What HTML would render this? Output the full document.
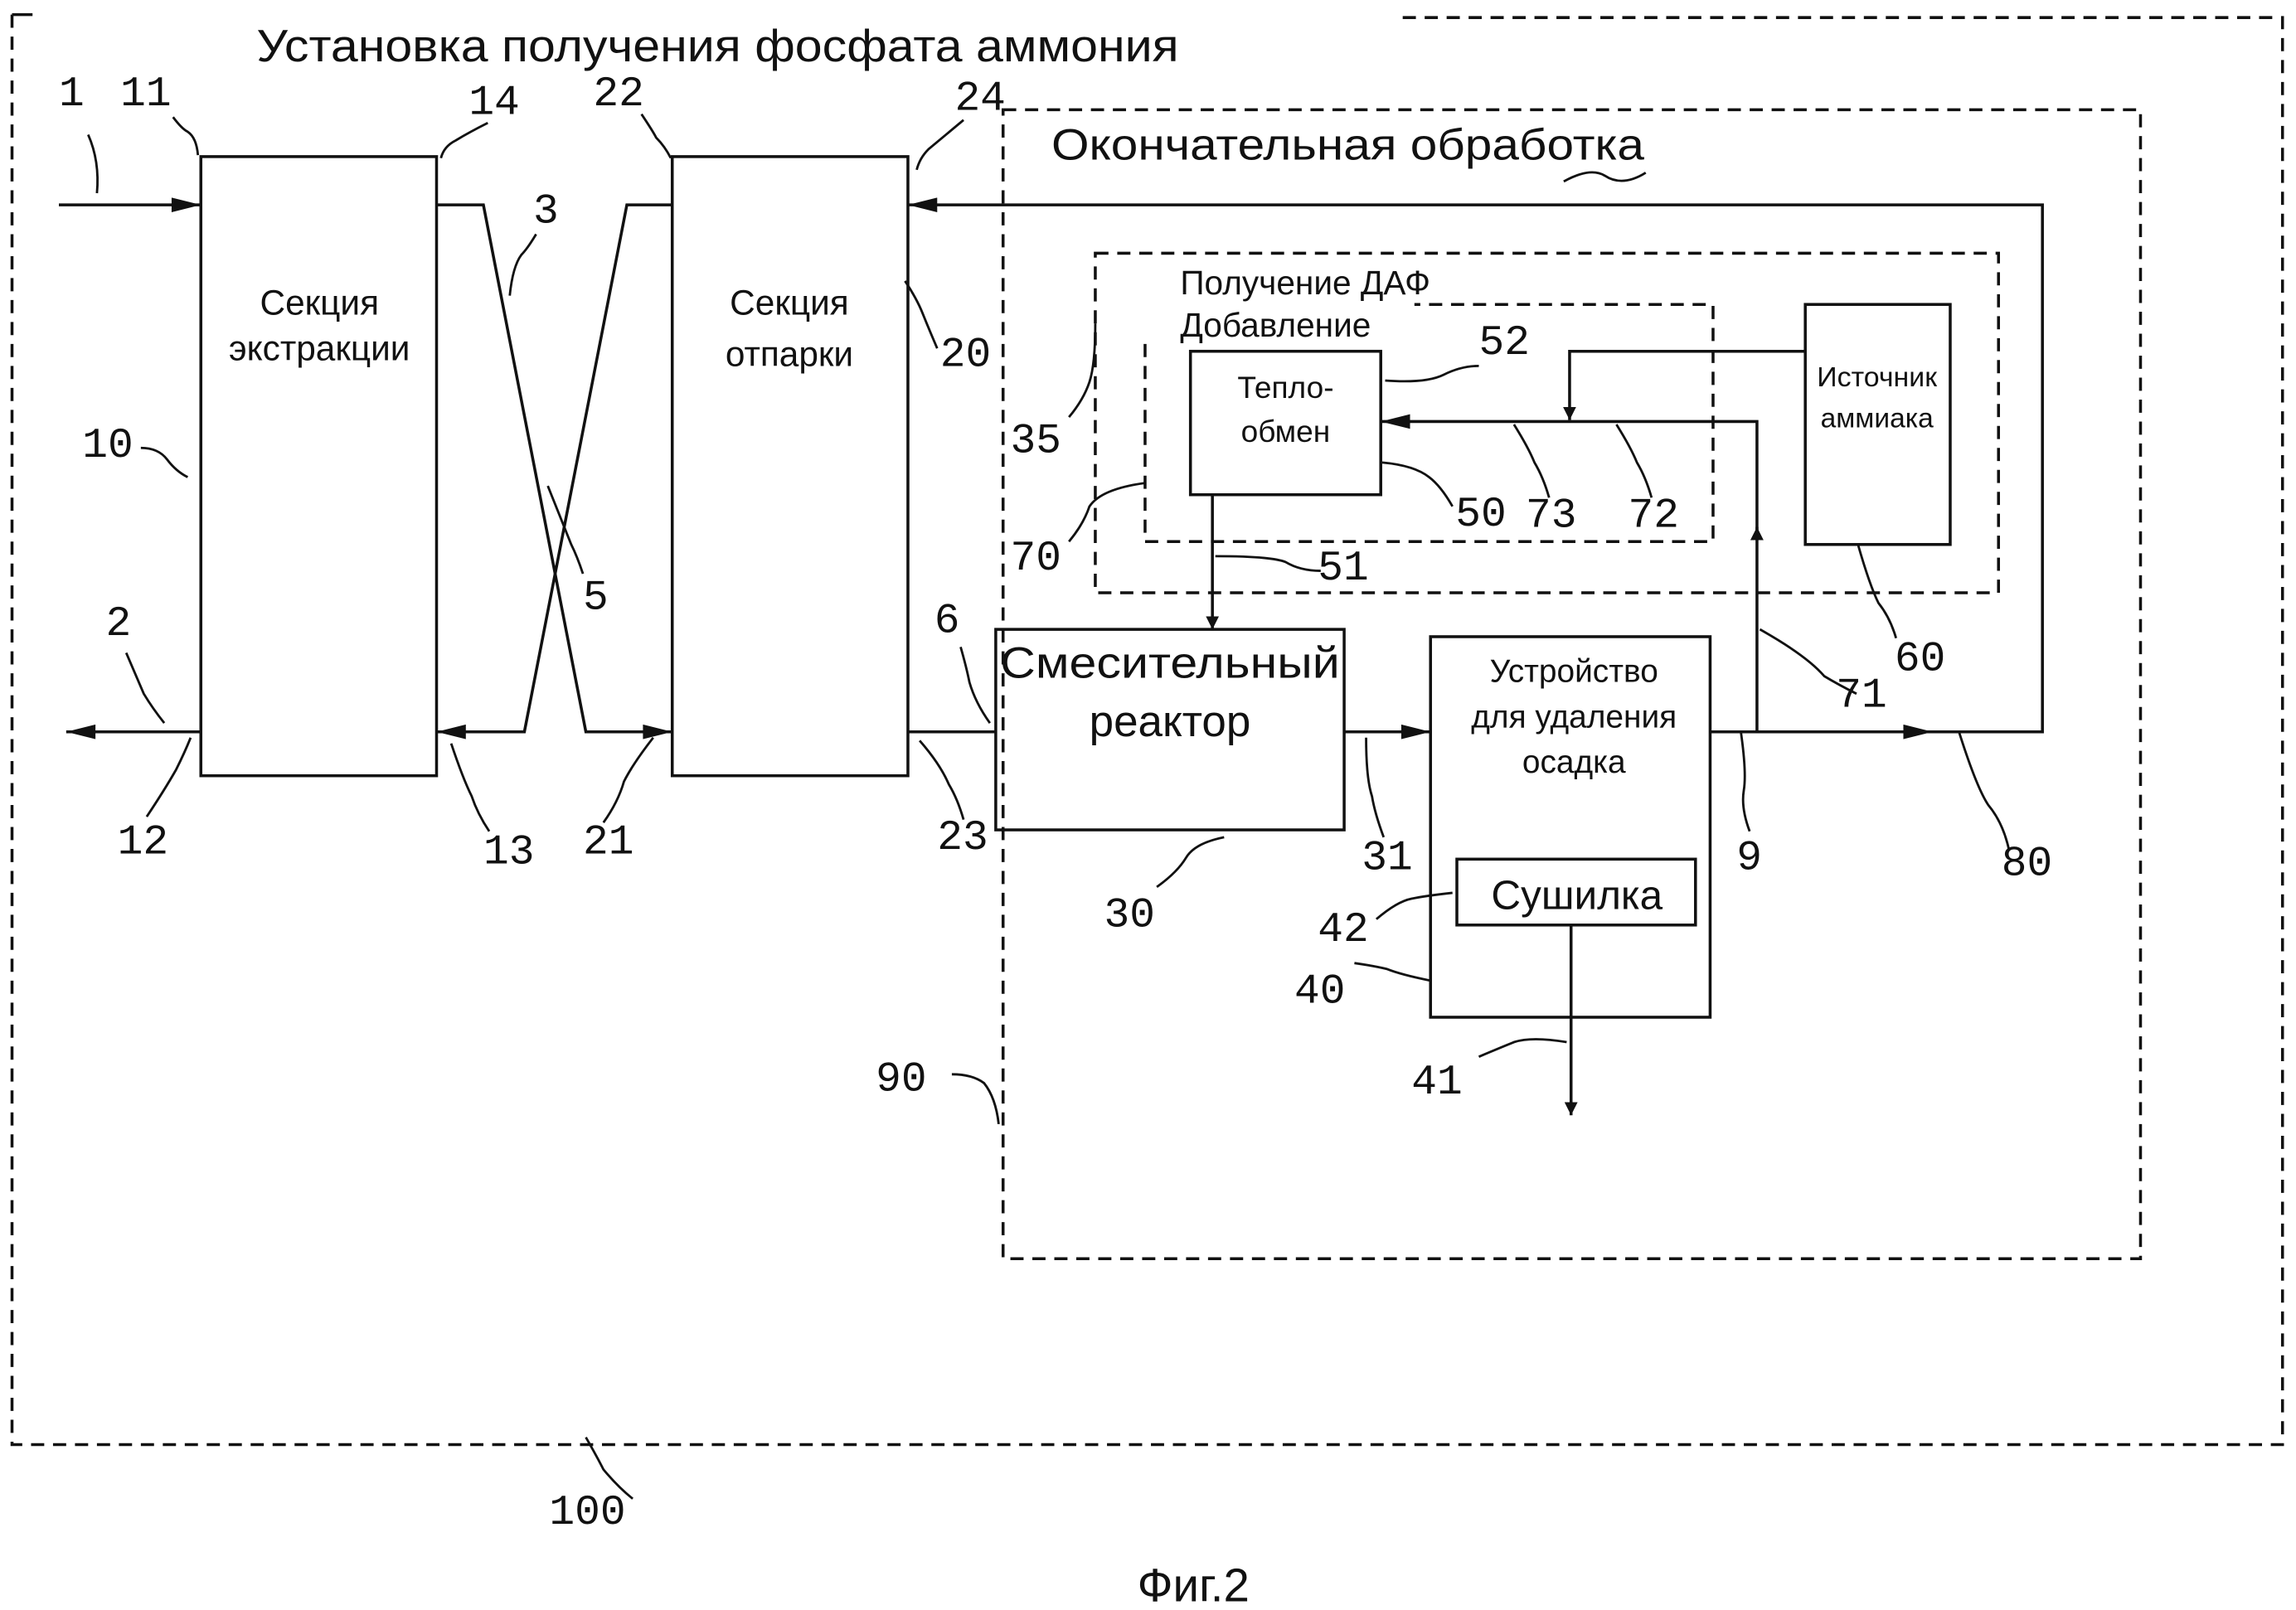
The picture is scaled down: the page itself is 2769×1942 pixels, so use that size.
<!DOCTYPE html>
<html><head><meta charset="utf-8"><style>
html,body{margin:0;padding:0;background:#fff;}
svg{display:block}
text{font-family:"Liberation Sans",sans-serif;fill:#111}
.n text{font-family:"Liberation Mono",monospace;font-size:29px}
</style></head><body>
<svg width="2769" height="1942" viewBox="0 0 1568 1100" xmlns="http://www.w3.org/2000/svg">
<defs><marker id="a" viewBox="0 0 10 10" refX="10" refY="5" markerWidth="9" markerHeight="9" orient="auto-start-reverse" markerUnits="userSpaceOnUse"><path d="M0,0L10,5L0,10z" fill="#111"/></marker>
<marker id="b" viewBox="0 0 20 10" refX="20" refY="5" markerWidth="24" markerHeight="10" orient="auto-start-reverse" markerUnits="userSpaceOnUse"><path d="M0,0L20,5L0,10z" fill="#111"/></marker></defs>
<g fill="none" stroke="#111" stroke-width="2">
<path d="M8,10V987H1559V12H958" stroke-dasharray="9,6"/>
<path d="M8,10H22"/>
<rect x="685" y="75" width="777" height="785" stroke-dasharray="9,6"/>
<rect x="748" y="173" width="617" height="232" stroke-dasharray="9,6"/>
<path d="M782,235V370H1170V208H966" stroke-dasharray="9,6"/>
<rect x="137" y="107" width="161" height="423"/>
<rect x="459" y="107" width="161" height="423"/>
<rect x="680" y="430" width="238" height="137"/>
<rect x="977" y="435" width="191" height="260"/>
<rect x="995" y="587" width="163" height="45"/>
<rect x="813" y="240" width="130" height="98"/>
<rect x="1233" y="208" width="99" height="164"/>
<path d="M40,140H137" marker-end="url(#b)"/>
<path d="M137,500H45" marker-end="url(#b)"/>
<path d="M298,140H330L400,500H459" marker-end="url(#b)"/>
<path d="M459,140H428L358,500H298" marker-end="url(#b)"/>
<path d="M620,500H680"/>
<path d="M918,500H977" marker-end="url(#b)"/>
<path d="M1168,500H1320" marker-end="url(#b)"/>
<path d="M1310,500H1395V140H620" marker-end="url(#b)"/>
<path d="M1200,500V360" marker-end="url(#a)"/>
<path d="M1200,365V288H943" marker-end="url(#b)"/>
<path d="M1233,240H1072V287" marker-end="url(#a)"/>
<path d="M828,338V430" marker-end="url(#a)"/>
<path d="M1073,632V762" marker-end="url(#a)"/>
<g stroke-width="1.6">
<path d="M60,92q8,18 6,40"/><path d="M118,80q6,8 10,10q6,4 7,16"/><path d="M333,84q-12,6 -22,12q-8,4 -10,12"/>
<path d="M438,78q8,12 10,16q6,6 10,14"/><path d="M658,82q-12,10 -24,20q-6,6 -8,14"/>
<path d="M366,160q-6,10 -10,14q-6,8 -8,28"/><path d="M640,238q-6,-14 -10,-24q-4,-10 -12,-22"/>
<path d="M96,306q12,0 18,8q6,8 14,12"/><path d="M398,392q-4,-12 -8,-20q-4,-10 -16,-40"/>
<path d="M86,446q6,14 12,28q6,10 14,20"/><path d="M656,442q4,14 6,24q4,14 14,28"/>
<path d="M100,558q12,-18 20,-32q6,-12 10,-22"/><path d="M334,568q-8,-12 -12,-24q-6,-12 -14,-36"/>
<path d="M412,562q10,-14 14,-28q6,-12 20,-30"/><path d="M658,560q-4,-14 -10,-24q-6,-14 -20,-30"/>
<path d="M790,606q14,-10 20,-20q6,-10 26,-14"/><path d="M945,572q-6,-16 -8,-28q-4,-12 -4,-40"/>
<path d="M1195,568q-6,-16 -4,-28q2,-12 -2,-40"/><path d="M1372,580q-4,-18 -14,-30q-8,-12 -20,-50"/>
<path d="M940,628q14,-12 24,-14q10,-2 28,-4"/><path d="M925,658q14,2 22,4q10,4 30,8"/>
<path d="M1010,722q14,-6 24,-10q12,-4 36,0"/><path d="M650,734q14,0 22,6q8,10 10,28"/>
<path d="M400,982q8,14 12,22q10,12 20,20"/><path d="M730,285q10,-12 14,-24q4,-12 4,-40"/>
<path d="M730,370q10,-12 14,-24q8,-12 38,-16"/><path d="M1010,250q-12,0 -24,6q-12,6 -40,4"/>
<path d="M992,346q-8,-14 -16,-20q-10,-8 -32,-10"/><path d="M1058,340q-4,-14 -10,-24q-4,-10 -14,-26"/>
<path d="M1128,340q-4,-14 -10,-24q-4,-10 -14,-26"/><path d="M902,390q-14,0 -24,-6q-10,-4 -48,-4"/>
<path d="M1268,474q-12,-6 -22,-12q-12,-14 -44,-32"/><path d="M1295,436q-4,-14 -12,-24q-6,-12 -14,-40"/>
<path d="M1068,124q18,-10 28,-4q12,8 28,-2"/>
</g></g>
<text x="175" y="42" font-size="31" textLength="630" lengthAdjust="spacingAndGlyphs">Установка получения фосфата аммония</text>
<text x="718" y="109" font-size="30" textLength="405" lengthAdjust="spacingAndGlyphs">Окончательная обработка</text>
<text x="806" y="201" font-size="23">Получение ДАФ</text>
<text x="806" y="230" font-size="23">Добавление</text>
<g font-size="24" text-anchor="middle">
<text x="218" y="215">Секция</text><text x="218" y="246">экстракции</text>
<text x="539" y="215">Секция</text><text x="539" y="250">отпарки</text>
</g>
<text x="683" y="463" font-size="30" textLength="232" lengthAdjust="spacingAndGlyphs">Смесительный</text>
<g text-anchor="middle">
<text x="799" y="503" font-size="30">реактор</text>
<text x="1075" y="466" font-size="22">Устройство</text><text x="1075" y="497" font-size="22">для удаления</text><text x="1075" y="528" font-size="22">осадка</text>
<text x="1077" y="621" font-size="28">Сушилка</text>
<text x="878" y="272" font-size="21">Тепло-</text><text x="878" y="302" font-size="21">обмен</text>
<text x="1282" y="264" font-size="19" textLength="82" lengthAdjust="spacingAndGlyphs">Источник</text><text x="1282" y="292" font-size="19">аммиака</text>
<text x="815" y="1094" font-size="32">Фиг.2</text>
</g>
<g class="n">
<text x="40" y="72">1</text><text x="82" y="72">11</text><text x="320" y="78">14</text><text x="405" y="72">22</text><text x="652" y="75">24</text>
<text x="364" y="152">3</text><text x="642" y="250">20</text><text x="56" y="312">10</text><text x="398" y="416">5</text>
<text x="72" y="434">2</text><text x="638" y="432">6</text><text x="80" y="583">12</text><text x="330" y="590">13</text>
<text x="398" y="583">21</text><text x="640" y="580">23</text><text x="754" y="633">30</text><text x="930" y="594">31</text>
<text x="1186" y="594">9</text><text x="1367" y="598">80</text><text x="900" y="643">42</text><text x="884" y="685">40</text>
<text x="964" y="747">41</text><text x="598" y="745">90</text><text x="375" y="1041">100</text>
<text x="690" y="309">35</text><text x="690" y="389">70</text><text x="1010" y="242">52</text><text x="994" y="359">50</text>
<text x="1042" y="360">73</text><text x="1112" y="360">72</text><text x="900" y="396">51</text><text x="1254" y="483">71</text><text x="1294" y="458">60</text>
</g>
</svg>
</body></html>
